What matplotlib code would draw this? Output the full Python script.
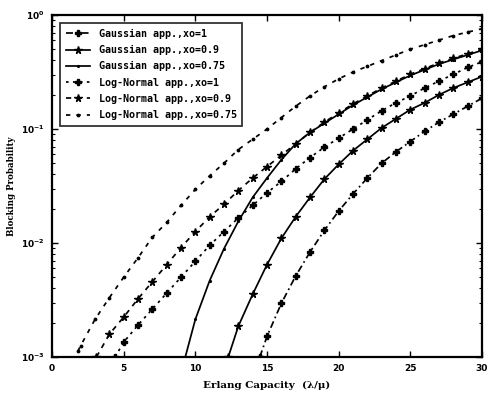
import matplotlib
matplotlib.use("Agg")
import matplotlib.pyplot as plt
import numpy as np

# Erlang capacity (lambda/mu) sample points and log10 of blocking probability
x_g1 = [14.5, 15, 16, 17, 18, 19, 20, 21, 22, 23, 24, 25, 26, 27, 28, 29, 30]
lp_g1 = [-3.0, -2.82, -2.53, -2.29, -2.08, -1.89, -1.72, -1.57, -1.43, -1.30,
         -1.20, -1.11, -1.02, -0.94, -0.87, -0.80, -0.73]

x_g09 = [12.3, 13, 14, 15, 16, 17, 18, 19, 20, 21, 22, 23, 24, 25, 26, 27, 28, 29, 30]
lp_g09 = [-3.0, -2.73, -2.45, -2.19, -1.96, -1.77, -1.60, -1.44, -1.31, -1.19,
          -1.09, -0.99, -0.91, -0.83, -0.77, -0.70, -0.64, -0.59, -0.54]

x_g075 = [9.3, 10, 11, 12, 13, 14, 15, 16, 17, 18, 19, 20, 21, 22, 23, 24, 25,
          26, 27, 28, 29, 30]
lp_g075 = [-3.0, -2.67, -2.33, -2.05, -1.81, -1.60, -1.43, -1.27, -1.13, -1.03,
           -0.95, -0.87, -0.79, -0.72, -0.65, -0.59, -0.53, -0.48, -0.43, -0.39,
           -0.35, -0.31]

x_ln1 = [4.4, 5, 6, 7, 8, 9, 10, 11, 12, 13, 14, 15, 16, 17, 18, 19, 20, 21, 22,
         23, 24, 25, 26, 27, 28, 29, 30]
lp_ln1 = [-3.0, -2.87, -2.72, -2.58, -2.44, -2.30, -2.16, -2.02, -1.90, -1.78,
          -1.67, -1.56, -1.46, -1.35, -1.25, -1.16, -1.08, -1.00, -0.92, -0.84,
          -0.77, -0.71, -0.64, -0.58, -0.52, -0.46, -0.41]

x_ln09 = [3.1, 4, 5, 6, 7, 8, 9, 10, 11, 12, 13, 14, 15, 16, 17, 18, 19, 20, 21,
          22, 23, 24, 25, 26, 27, 28, 29, 30]
lp_ln09 = [-3.0, -2.80, -2.65, -2.49, -2.34, -2.19, -2.04, -1.90, -1.77, -1.66,
           -1.54, -1.43, -1.33, -1.23, -1.13, -1.03, -0.94, -0.86, -0.78, -0.71,
           -0.64, -0.58, -0.52, -0.47, -0.42, -0.38, -0.34, -0.30]

x_ln075 = [1.8, 2, 3, 4, 5, 6, 7, 8, 9, 10, 11, 12, 13, 14, 15, 16, 17, 18, 19,
           20, 21, 22, 23, 24, 25, 26, 27, 28, 29, 30]
lp_ln075 = [-2.95, -2.90, -2.67, -2.48, -2.30, -2.13, -1.95, -1.82, -1.67, -1.53,
            -1.41, -1.30, -1.18, -1.09, -1.00, -0.90, -0.80, -0.71, -0.63, -0.56,
            -0.50, -0.45, -0.40, -0.35, -0.30, -0.26, -0.22, -0.18, -0.15, -0.12]

labels = ["Gaussian app.,xo=1", "Gaussian app.,xo=0.9", "Gaussian app.,xo=0.75",
          "Log-Normal app.,xo=1", "Log-Normal app.,xo=0.9", "Log-Normal app.,xo=0.75"]

x_ticks = [0, 5, 10, 15, 20, 25, 30]

series = [
    (x_g1, lp_g1, dict(ls=(0, (4, 2, 1, 2)), marker="P", ms=3.8)),
    (x_g09, lp_g09, dict(ls="-", marker="*", ms=5.5)),
    (x_g075, lp_g075, dict(ls="-", marker=".", ms=2.5)),
    (x_ln1, lp_ln1, dict(ls=(0, (1.5, 2.5)), marker="P", ms=3.8)),
    (x_ln09, lp_ln09, dict(ls=(0, (3, 3)), marker="*", ms=5.5)),
    (x_ln075, lp_ln075, dict(ls=(0, (2.5, 3.5)), marker=".", ms=3.5)),
]

plt.rcParams["font.family"] = "DejaVu Sans"
plt.rcParams["mathtext.default"] = "bf"

fig = plt.figure(figsize=(4.88, 3.96), dpi=100)
ax = fig.add_axes([0.1066, 0.0985, 0.881, 0.8635])

for (xs, lps, st), lab in zip(series, labels):
    ys = 10.0 ** np.asarray(lps)
    ax.plot(xs, ys, color="black", lw=1.25, mec="black", mfc="black",
            label=lab, **st)

ax.set_yscale("log")
ax.set_xlim(0, 30)
ax.set_ylim(1e-3, 1)
ax.set_xticks(x_ticks)
ax.set_xticklabels([str(t) for t in x_ticks])
ax.tick_params(which="both", direction="in", top=True, right=True)
ax.tick_params(which="major", length=4, width=1, labelsize=6.5, pad=5)
ax.tick_params(which="minor", length=2.5, width=0.8)
for lbl in ax.get_xticklabels() + ax.get_yticklabels():
    lbl.set_fontweight("bold")
for sp in ax.spines.values():
    sp.set_linewidth(1.6)

ax.set_xlabel("Erlang Capacity  (λ/μ)", family="DejaVu Serif", fontsize=7.5,
              fontweight="bold", labelpad=6)
ax.set_ylabel("Blocking Probability", family="DejaVu Serif", fontsize=6.2,
              fontweight="bold", labelpad=4)

leg = ax.legend(loc="upper left", bbox_to_anchor=(0.008, 0.99),
                frameon=True, fancybox=False, edgecolor="black",
                handlelength=2.4, handletextpad=0.9, labelspacing=0.62,
                borderpad=0.55,
                prop=dict(family="DejaVu Sans Mono", weight="bold", size=7.2))
leg.get_frame().set_linewidth(1.3)

fig.savefig("out.png", dpi=100)
